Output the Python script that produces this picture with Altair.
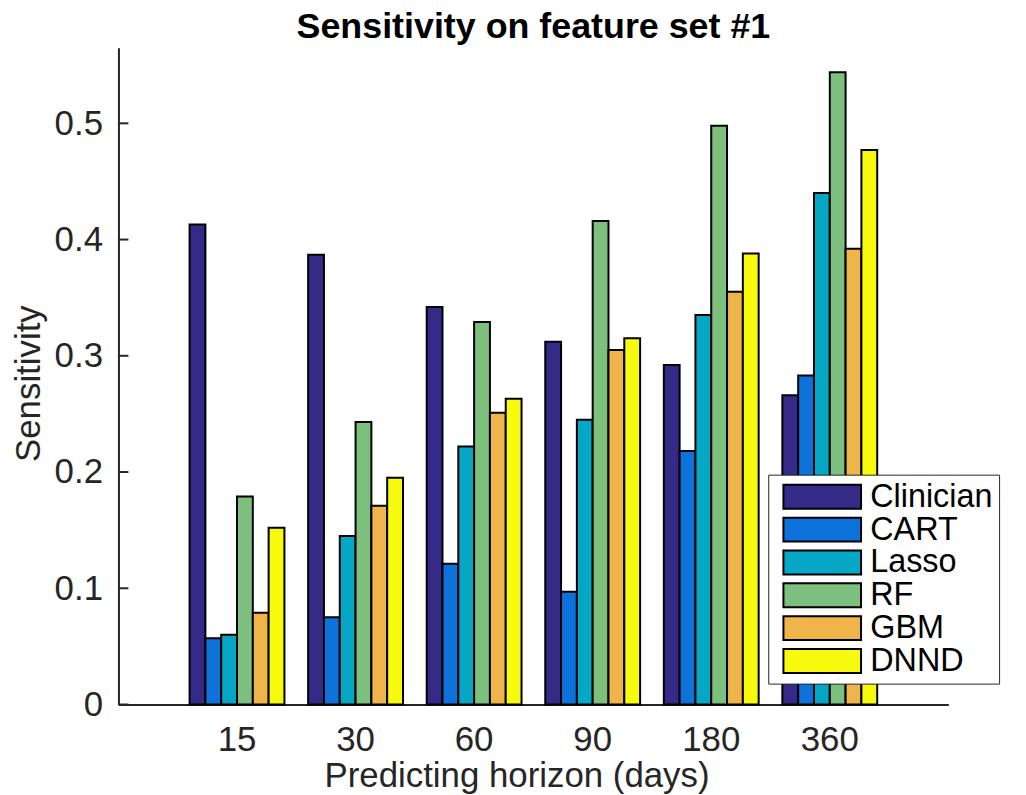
import altair as alt
import pandas as pd

horizons = ["15", "30", "60", "90", "180", "360"]
models = ["Clinician", "CART", "Lasso", "RF", "GBM", "DNND"]
colors = ["#352a87", "#0e72db", "#06a7c5", "#7dbf7c", "#efb44a", "#f8fa0e"]

clinician = [0.413, 0.387, 0.342, 0.312, 0.292, 0.266]
cart = [0.057, 0.075, 0.121, 0.097, 0.218, 0.283]
lasso = [0.060, 0.145, 0.222, 0.245, 0.335, 0.440]
rf = [0.179, 0.243, 0.329, 0.416, 0.498, 0.544]
gbm = [0.079, 0.171, 0.251, 0.305, 0.355, 0.392]
dnnd = [0.152, 0.195, 0.263, 0.315, 0.388, 0.477]

y_ticks = [0, 0.1, 0.2, 0.3, 0.4, 0.5]

series = [clinician, cart, lasso, rf, gbm, dnnd]
rows = []
for m, vals in zip(models, series):
    for h, v in zip(horizons, vals):
        rows.append({"Horizon": h, "Model": m, "Sensitivity": v})
df = pd.DataFrame(rows)
tick_df = pd.DataFrame({"t": y_ticks})

FONT = "Liberation Sans"
INK = "#262626"

yscale = alt.Scale(domain=[0, 0.565], nice=False, zero=True)

bars = alt.Chart(df).mark_bar(stroke="black", strokeWidth=2).encode(
    x=alt.X("Horizon:N", sort=horizons,
            scale=alt.Scale(paddingInner=0.2, paddingOuter=0.6),
            axis=alt.Axis(title="Predicting horizon (days)", labelAngle=0,
                          labelFontSize=35, labelFont=FONT, labelColor=INK,
                          labelPadding=18, ticks=False, tickSize=0,
                          domainColor=INK, domainWidth=2,
                          titleFont=FONT, titleFontSize=35, titleFontWeight="normal",
                          titleColor=INK, titleX=400, titleY=82,
                          titleBaseline="alphabetic", titleAlign="center")),
    xOffset=alt.XOffset("Model:N", sort=models,
                        scale=alt.Scale(paddingInner=0, paddingOuter=0)),
    y=alt.Y("Sensitivity:Q", scale=yscale,
            axis=alt.Axis(title="Sensitivity", values=y_ticks, format=".1~f",
                          grid=False, ticks=False, tickSize=0,
                          labelFontSize=35, labelFont=FONT, labelColor=INK,
                          labelPadding=16, domainColor=INK, domainWidth=2,
                          titleFont=FONT, titleFontSize=35, titleFontWeight="normal",
                          titleColor=INK, titleX=-79, titleY=337,
                          titleBaseline="alphabetic", titleAlign="center")),
    color=alt.Color("Model:N", sort=models,
                    scale=alt.Scale(domain=models, range=colors),
                    legend=alt.Legend(title=None, orient="none", legendX=653, legendY=429,
                                      fillColor="white", strokeColor=INK, padding=6,
                                      symbolType="M-3.25,-1H3.25V1H-3.25Z",
                                      symbolSize=576, symbolStrokeColor="black",
                                      symbolStrokeWidth=2, symbolOffset=32,
                                      labelOffset=32, labelFontSize=32.5, labelFont=FONT,
                                      labelColor="black", rowPadding=0,
                                      symbolOpacity=1)),
)

yt = alt.Chart(tick_df).mark_rule(color=INK, strokeWidth=2).encode(
    y=alt.Y("t:Q", scale=yscale),
    x=alt.value(0),
    x2=alt.value(10),
)

chart = alt.layer(bars, yt).properties(
    width=834,
    height=660,
    background="white",
    title=alt.TitleParams("Sensitivity on feature set #1", font=FONT, fontSize=36,
                          fontWeight="bold", color="black", anchor="middle", offset=2),
    autosize=alt.AutoSizeParams(type="none"),
    padding={"left": 111, "top": 38, "right": 70, "bottom": 93},
).configure_view(stroke="transparent", strokeWidth=0)

chart.save("out.html", embed_options={"renderer": "svg", "actions": False})
